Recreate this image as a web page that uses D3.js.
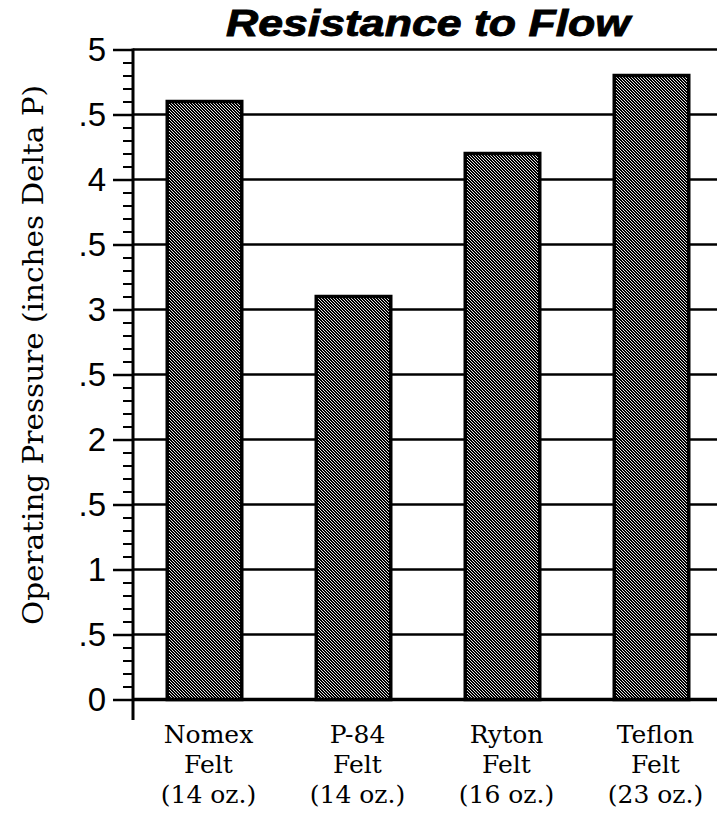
<!DOCTYPE html>
<html>
<head>
<meta charset="utf-8">
<script src="https://cdn.jsdelivr.net/npm/d3@7"></script>
<style>
  body { margin: 0; background: #fff; }
  svg { display: block; }
</style>
</head>
<body>
<svg id="canvas" width="717" height="816"></svg>
<script>
// chart data
let fabrics = ["Nomex", "P-84", "Ryton", "Teflon"];
let weights = ["(14 oz.)", "(14 oz.)", "(16 oz.)", "(23 oz.)"];
let pressures = [4.6, 3.1, 4.2, 4.8];
let majorTicks = [0, 0.5, 1, 1.5, 2, 2.5, 3, 3.5, 4, 4.5, 5];

let canvas = d3.select("#canvas");

let axisX = 133;
let rightEdge = 717;

let yScale = d3.scaleLinear()
    .domain([0, 5])
    .range([699.5, 49.5]);

let xScale = d3.scaleBand()
    .domain(fabrics)
    .range([130, 726])
    .paddingInner(0.5)
    .paddingOuter(0.25);

// stipple pattern, diagonal dark stripes like the old laser print
let defs = canvas.append("defs");
let pat = defs.append("pattern")
    .attr("id", "stipple")
    .attr("patternUnits", "userSpaceOnUse")
    .attr("width", 3)
    .attr("height", 3);
pat.append("rect").attr("width", 3).attr("height", 3).attr("fill", "#e4e4e4");
let darkCells = [[0, 0], [1, 0], [1, 1], [2, 1], [2, 2], [0, 2]];
pat.selectAll("rect.px")
    .data(darkCells)
    .enter()
    .append("rect")
    .attr("class", "px")
    .attr("x", d => d[0])
    .attr("y", d => d[1])
    .attr("width", 1)
    .attr("height", 1)
    .attr("fill", "#000")
    .attr("shape-rendering", "crispEdges");

// title
canvas.append("text")
    .attr("x", 428)
    .attr("y", 36)
    .attr("text-anchor", "middle")
    .attr("font-family", "Liberation Sans, Arial, sans-serif")
    .attr("font-weight", "bold")
    .attr("font-style", "italic")
    .attr("font-size", 36)
    .attr("stroke", "#000")
    .attr("stroke-width", 0.9)
    .attr("textLength", 404)
    .attr("lengthAdjust", "spacingAndGlyphs")
    .text("Resistance to Flow");

// horizontal grid lines
canvas.append("g")
    .selectAll("line")
    .data(majorTicks)
    .enter()
    .append("line")
    .attr("x1", axisX)
    .attr("x2", rightEdge)
    .attr("y1", d => yScale(d))
    .attr("y2", d => yScale(d))
    .attr("stroke", "#000")
    .attr("stroke-width", d => d === 0 ? 3.5 : 2.5);

// minor ticks every 0.1
let minorAxis = d3.axisLeft(yScale)
    .tickValues(d3.range(0, 51).map(i => i / 10))
    .tickSize(10)
    .tickFormat("");
let gMinor = canvas.append("g")
    .attr("transform", `translate(${axisX},0)`)
    .call(minorAxis);
gMinor.select(".domain").remove();
gMinor.selectAll(".tick line").attr("stroke-width", 2);

// major ticks with labels
let majorAxis = d3.axisLeft(yScale)
    .tickValues(majorTicks)
    .tickSize(20)
    .tickPadding(7)
    .tickFormat(d => d % 1 === 0 ? d3.format("d")(d) : ".5");
let gMajor = canvas.append("g")
    .attr("transform", `translate(${axisX},0)`)
    .call(majorAxis);
gMajor.select(".domain").remove();
gMajor.selectAll(".tick line").attr("stroke-width", 2.5);
gMajor.selectAll(".tick text")
    .attr("font-family", "Liberation Sans, Arial, sans-serif")
    .attr("font-size", 33)
    .attr("fill", "#000")
    .attr("dy", "0.33em");

// vertical axis line, runs a bit past zero
canvas.append("line")
    .attr("x1", axisX)
    .attr("x2", axisX)
    .attr("y1", yScale(5) - 1)
    .attr("y2", 720)
    .attr("stroke", "#000")
    .attr("stroke-width", 3);

// bars
canvas.append("g")
    .selectAll("rect")
    .data(fabrics)
    .enter()
    .append("rect")
    .attr("x", d => xScale(d))
    .attr("y", (d, i) => yScale(pressures[i]))
    .attr("width", xScale.bandwidth())
    .attr("height", (d, i) => yScale(0) - yScale(pressures[i]))
    .attr("fill", "url(#stipple)")
    .attr("stroke", "#000")
    .attr("stroke-width", 3.5);

// category labels, three lines each
let labels = canvas.append("g")
    .selectAll("text")
    .data(fabrics)
    .enter()
    .append("text")
    .attr("text-anchor", "middle")
    .attr("font-family", "DejaVu Serif, serif")
    .attr("font-size", 25)
    .attr("fill", "#000");
labels.each(function(d, i) {
    let cx = xScale(d) + xScale.bandwidth() / 2 + 4;
    let lines = [d, "Felt", weights[i]];
    d3.select(this).selectAll("tspan")
        .data(lines)
        .enter()
        .append("tspan")
        .attr("x", cx)
        .attr("y", (t, j) => 743 + j * 30)
        .text(t => t);
});

// y axis title
canvas.append("text")
    .attr("transform", "translate(43,355) rotate(-90)")
    .attr("text-anchor", "middle")
    .attr("font-family", "DejaVu Serif, serif")
    .attr("font-size", 28)
    .attr("fill", "#000")
    .attr("textLength", 540)
    .attr("lengthAdjust", "spacingAndGlyphs")
    .text("Operating Pressure (inches Delta P)");
</script>
</body>
</html>
